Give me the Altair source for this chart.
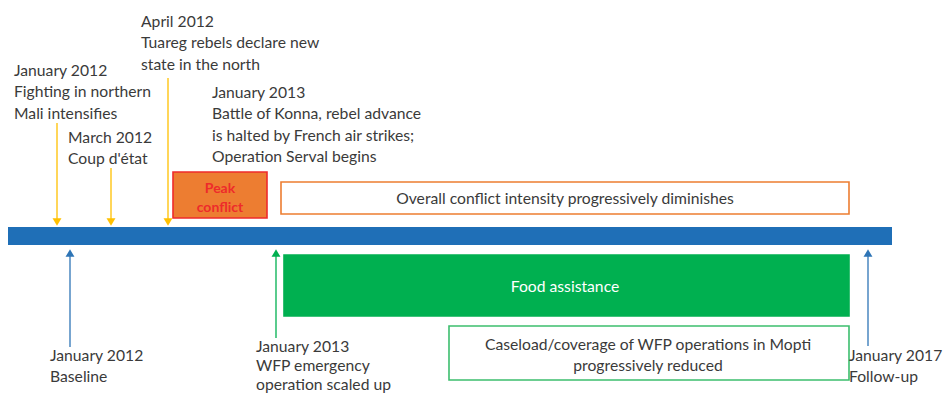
import altair as alt
import pandas as pd

W, H = 936, 386
X0, Y0 = 8, 8
FONT = "Lato"
TXT = "#3A3A3A"

# ---- timeline bar ----
timeline_x = [7, 892]
timeline_y = [227, 245]

# ---- conflict events (above the timeline) ----
top_labels = [
    "January 2012\nFighting in northern\nMali intensifies",
    "March 2012\nCoup d'état",
    "April 2012\nTuareg rebels declare new\nstate in the north",
    "January 2013\nBattle of Konna, rebel advance\nis halted by French air strikes;\nOperation Serval begins",
]
top_label_x = [14, 68, 141, 212]
top_label_y = [76, 143, 27, 98]
top_arrow_x = [57, 111, 168]
top_arrow_start = [123, 168, 78]
top_arrow_tip = [226, 226, 226]

# ---- WFP milestones (below the timeline) ----
bot_labels = [
    "January 2012\nBaseline",
    "January 2013\nWFP emergency\noperation scaled up",
    "January 2017\nFollow-up",
]
bot_label_x = [50, 256, 849]
bot_label_y = [361, 352, 361]
bot_label_lh = [21.3, 19, 21.3]
bot_arrow_x = [70, 276, 868]
bot_arrow_tip = [249, 249, 249]
bot_arrow_end = [347, 338, 346]
bot_arrow_color = ["#2E75B6", "#00B050", "#2E75B6"]

# ---- boxes ----
box_names = ["Peak conflict", "Overall conflict", "Food assistance", "Caseload"]
box_x1 = [173, 281, 284, 449]
box_x2 = [267, 849, 849, 849]
box_y1 = [172, 182, 255, 326]
box_y2 = [218, 214, 316, 380]
box_fill = ["#ED7D31", "#FFFFFF", "#00B050", "#FFFFFF"]
box_stroke = ["#EE2B2B", "#ED7D31", "#00B050", "#3CBE6E"]

box_texts = [
    "Overall conflict intensity progressively diminishes",
    "Food assistance",
    "Caseload/coverage of WFP operations in Mopti\nprogressively reduced",
]
box_text_x = [565, 565, 648]
box_text_y = [204, 292, 350]
box_text_color = [TXT, "#FFFFFF", TXT]

peak_text = ["Peak\nconflict"]
peak_text_x = [220]
peak_text_y = [193]

xs = alt.Scale(domain=[X0, X0 + W])
ys = alt.Scale(domain=[Y0, Y0 + H], reverse=True)

def X(f):
    return alt.X(f, type="quantitative", scale=xs, axis=None)

def Y(f):
    return alt.Y(f, type="quantitative", scale=ys, axis=None)

# timeline
tl = alt.Chart(pd.DataFrame({"x": [timeline_x[0]], "x2": [timeline_x[1]],
                             "y": [timeline_y[0]], "y2": [timeline_y[1]]})).mark_rect(
    color="#1F6FB7").encode(x=X("x"), x2="x2", y=Y("y"), y2="y2")

boxes_df = pd.DataFrame({"name": box_names, "x": box_x1, "x2": box_x2, "y": box_y1,
                         "y2": box_y2, "fill": box_fill, "stroke": box_stroke})
boxes = alt.Chart(boxes_df).mark_rect(strokeWidth=1.6).encode(
    x=X("x"), x2="x2", y=Y("y"), y2="y2",
    fill=alt.Fill("fill:N", scale=None), stroke=alt.Stroke("stroke:N", scale=None))

# top arrows
ta_df = pd.DataFrame({"x": top_arrow_x, "y": top_arrow_start, "y2": [t - 6 for t in top_arrow_tip],
                      "yh": [t - 4 for t in top_arrow_tip]})
ta_line = alt.Chart(ta_df).mark_rule(color="#FFC000", strokeWidth=1.3).encode(
    x=X("x"), y=Y("y"), y2="y2")
ta_head = alt.Chart(ta_df).mark_point(shape="triangle-down", filled=True, opacity=1,
                                      color="#FFC000", size=80).encode(x=X("x"), y=Y("yh"))

# bottom arrows
ba_df = pd.DataFrame({"x": bot_arrow_x, "y": [t + 6 for t in bot_arrow_tip], "y2": bot_arrow_end,
                      "yh": [t + 4 for t in bot_arrow_tip], "c": bot_arrow_color})
ba_line = alt.Chart(ba_df).mark_rule(strokeWidth=1.3).encode(
    x=X("x"), y=Y("y"), y2="y2", color=alt.Color("c:N", scale=None))
ba_head = alt.Chart(ba_df).mark_point(shape="triangle-up", filled=True, opacity=1, size=80).encode(
    x=X("x"), y=Y("yh"), color=alt.Color("c:N", scale=None))

txt_kw = dict(font=FONT, fontSize=15.7, lineBreak="\n", baseline="alphabetic")

top_txt = alt.Chart(pd.DataFrame({"t": top_labels, "x": top_label_x, "y": top_label_y})).mark_text(
    align="left", color=TXT, lineHeight=21.3, **txt_kw).encode(x=X("x"), y=Y("y"), text="t:N")

# bottom labels (one layer each so that each keeps its own line spacing)
bot_layers = []
for i in range(len(bot_labels)):
    bot_layers.append(
        alt.Chart(pd.DataFrame({"t": [bot_labels[i]], "x": [bot_label_x[i]], "y": [bot_label_y[i]]}))
        .mark_text(align="left", color=TXT, lineHeight=bot_label_lh[i], **txt_kw)
        .encode(x=X("x"), y=Y("y"), text="t:N"))

box_txt = alt.Chart(pd.DataFrame({"t": box_texts, "x": box_text_x, "y": box_text_y,
                                  "c": box_text_color})).mark_text(
    align="center", lineHeight=21.3, **txt_kw).encode(x=X("x"), y=Y("y"), text="t:N",
                                                      color=alt.Color("c:N", scale=None))
peak_txt = alt.Chart(pd.DataFrame({"t": peak_text, "x": peak_text_x, "y": peak_text_y})).mark_text(
    align="center", font=FONT, fontSize=14, fontWeight="bold", lineBreak="\n", lineHeight=19,
    baseline="alphabetic", color="#EE2B2B").encode(x=X("x"), y=Y("y"), text="t:N")

chart = alt.layer(tl, boxes, ta_line, ta_head, ba_line, ba_head, top_txt, *bot_layers, box_txt,
                  peak_txt).properties(
    width=W, height=H, padding=0, autosize=alt.AutoSizeParams(type="none")
).configure_view(stroke=None)

chart.save("out.html", embed_options={"renderer": "svg", "actions": False})
